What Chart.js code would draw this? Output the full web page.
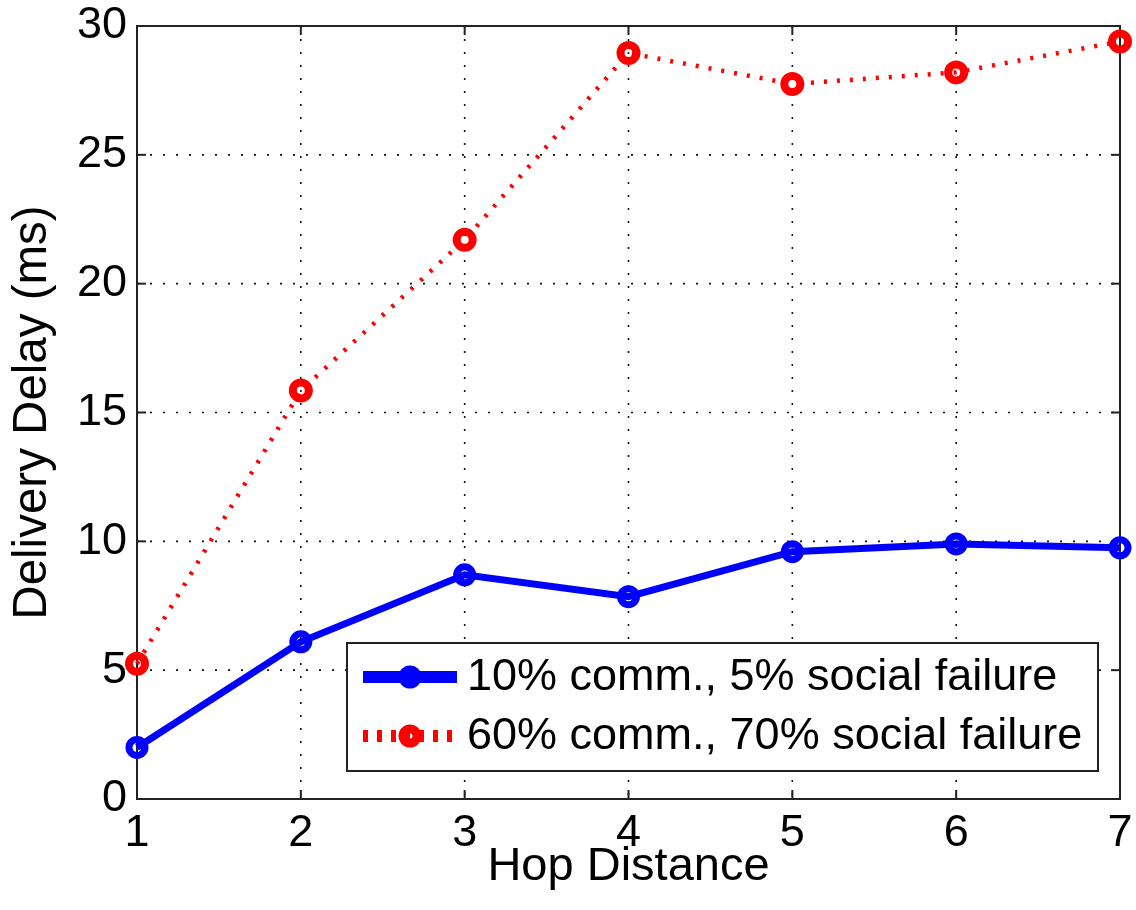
<!DOCTYPE html>
<html><head><meta charset="utf-8">
<script src="https://cdn.jsdelivr.net/npm/chart.js@4.4.0/dist/chart.umd.min.js"></script>
<style>html,body{margin:0;padding:0;background:#fff}#wrap{width:1136px;height:910px}</style>
</head><body><div id="wrap"><canvas id="c" width="1136" height="910"></canvas></div>
<script>
const hopDistance = ['1','2','3','4','5','6','7'];
const lowFailureDelay = [2.0, 6.1, 8.7, 7.85, 9.6, 9.9, 9.75];
const highFailureDelay = [5.25, 15.85, 21.7, 28.95, 27.75, 28.2, 29.4];
const yTicks = [0, 5, 10, 15, 20, 25, 30];
const seriesLabels = ['10% comm., 5% social failure', '60% comm., 70% social failure'];
const FONT = '"Liberation Sans", Arial, Helvetica, sans-serif';

function seg(ctx, x1, y1, x2, y2) { ctx.beginPath(); ctx.moveTo(x1, y1); ctx.lineTo(x2, y2); ctx.stroke(); }

const framePlugin = {
  id: 'frame',
  beforeDatasetsDraw(chart) {
    const { ctx, chartArea: a, scales: { x, y } } = chart;
    ctx.save();
    ctx.strokeStyle = '#111';
    ctx.lineWidth = 1.6;
    ctx.setLineDash([2, 11]);
    hopDistance.forEach((h, i) => {
      if (i === 0 || i === hopDistance.length - 1) return;
      const px = x.getPixelForValue(i);
      seg(ctx, px, a.top, px, a.bottom);
    });
    yTicks.forEach((v, i) => {
      if (i === 0 || i === yTicks.length - 1) return;
      const py = y.getPixelForValue(v);
      seg(ctx, a.left, py, a.right, py);
    });
    ctx.setLineDash([]);
    ctx.strokeStyle = '#222';
    ctx.lineWidth = 2;
    const tl = 9;
    hopDistance.forEach((h, i) => {
      const px = x.getPixelForValue(i);
      seg(ctx, px, a.bottom, px, a.bottom - tl);
      seg(ctx, px, a.top, px, a.top + tl);
    });
    yTicks.forEach(v => {
      const py = y.getPixelForValue(v);
      seg(ctx, a.left, py, a.left + tl, py);
      seg(ctx, a.right, py, a.right - tl, py);
    });
    ctx.strokeRect(a.left, a.top, a.right - a.left, a.bottom - a.top);
    ctx.restore();
  },
  afterDatasetsDraw(chart) {
    const { ctx } = chart;
    const bx = 347, by = 643, bw = 751, bh = 128;
    ctx.save();
    ctx.fillStyle = '#fff';
    ctx.fillRect(bx, by, bw, bh);
    ctx.strokeStyle = '#222';
    ctx.lineWidth = 2;
    ctx.strokeRect(bx, by, bw, bh);
    const rows = [677, 736];
    const styles = [
      { lw: 12, dash: [], r: 8, bw: 7 },
      { lw: 12, dash: [5, 9], r: 7, bw: 9 }
    ];
    chart.data.datasets.forEach((ds, i) => {
      const cy = rows[i], st = styles[i];
      ctx.strokeStyle = ds.borderColor;
      ctx.lineWidth = st.lw;
      ctx.setLineDash(st.dash);
      seg(ctx, 363, cy, 457, cy);
      ctx.setLineDash([]);
      ctx.lineWidth = st.bw;
      ctx.beginPath(); ctx.arc(410, cy, st.r, 0, Math.PI * 2); ctx.stroke();
      ctx.fillStyle = '#000';
      ctx.font = '45px ' + FONT;
      ctx.textBaseline = 'middle';
      ctx.textAlign = 'left';
      ctx.fillText(ds.label, 467, cy + 1);
    });
    ctx.restore();
  }
};

new Chart(document.getElementById('c'), {
  type: 'line',
  data: {
    labels: hopDistance,
    datasets: [
      {
        label: seriesLabels[0], data: lowFailureDelay,
        borderColor: '#0000ff', backgroundColor: 'rgba(0,0,0,0)',
        borderWidth: 7, pointRadius: 8, pointBorderWidth: 7,
        pointBackgroundColor: 'rgba(0,0,0,0)', pointBorderColor: '#0000ff',
        tension: 0, clip: false
      },
      {
        label: seriesLabels[1], data: highFailureDelay,
        borderColor: '#ff0000', backgroundColor: 'rgba(0,0,0,0)',
        borderWidth: 4.5, borderDash: [3, 10], borderCapStyle: 'butt',
        pointRadius: 8, pointBorderWidth: 8,
        pointBackgroundColor: 'rgba(0,0,0,0)', pointBorderColor: '#ff0000',
        tension: 0, clip: false
      }
    ]
  },
  options: {
    responsive: false,
    animation: false,
    layout: { padding: { top: 26, right: 11, left: 0, bottom: 0 } },
    plugins: { legend: { display: false }, tooltip: { enabled: false } },
    scales: {
      x: {
        type: 'category', offset: false,
        grid: { display: false, drawTicks: false },
        border: { display: false },
        ticks: { color: '#000', padding: 8, font: { family: FONT, size: 45 }, maxRotation: 0, autoSkip: false },
        title: { display: true, text: 'Hop Distance', color: '#000', font: { family: FONT, size: 47 }, padding: { top: 0, bottom: 15 } },
        afterFit(s) { s.height = 111; s.paddingLeft = 0; s.paddingRight = 0; }
      },
      y: {
        min: 0, max: 30,
        grid: { display: false, drawTicks: false },
        border: { display: false },
        afterBuildTicks(s) { s.ticks = yTicks.map(v => ({ value: v })); },
        ticks: { color: '#000', padding: 10, font: { family: FONT, size: 45 } },
        title: { display: true, text: 'Delivery Delay (ms)', color: '#000', font: { family: FONT, size: 47.5 }, padding: { top: 4, bottom: 0 } },
        afterFit(s) { s.width = 137; s.paddingTop = 0; s.paddingBottom = 0; }
      }
    }
  },
  plugins: [framePlugin]
});
</script>
</body></html>
